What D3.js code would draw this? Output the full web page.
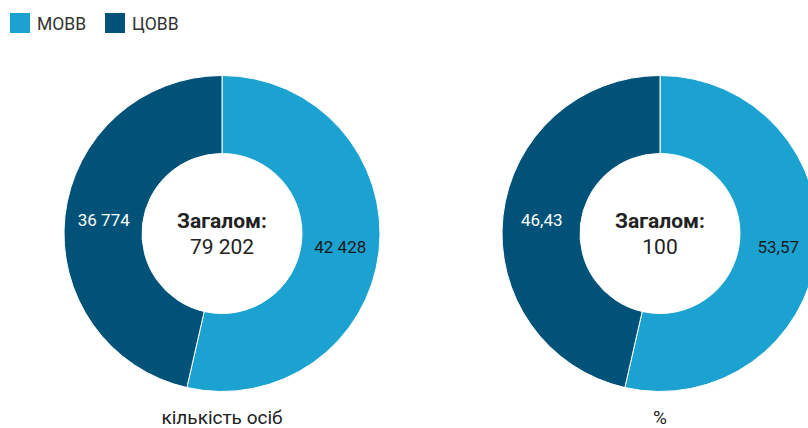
<!DOCTYPE html>
<html><head><meta charset="utf-8">
<script src="https://cdn.jsdelivr.net/npm/d3@7"></script>
<style>
html,body{margin:0;padding:0;background:#fff;}
svg{display:block;font-family:Roboto,"Open Sans",sans-serif;}
</style></head>
<body>
<svg id="chart" width="808" height="428"></svg>
<script>
const categories = ["МОВВ", "ЦОВВ"];
const colors = ["#1ba2d0", "#015279"];
const countValues = [42428, 36774];
const countLabels = ["42 428", "36 774"];
const pctValues = [53.57, 46.43];
const pctLabels = ["53,57", "46,43"];
const charts = [
  {values: countValues, labels: countLabels, total: "79 202", title: "кількість осіб", cx: 222},
  {values: pctValues, labels: pctLabels, total: "100", title: "%", cx: 660}
];

const svg = d3.select("#chart");
const cy = 233.5, rOuter = 158, rInner = 80;
const color = d3.scaleOrdinal().domain(categories).range(colors);

// legend
const leg = svg.append("g");
const legX = [10, 105];
categories.forEach((c, i) => {
  leg.append("rect").attr("x", legX[i]).attr("y", 13).attr("width", 20).attr("height", 20).attr("fill", color(c));
  leg.append("text").attr("x", legX[i] + 27).attr("y", 29.5).attr("font-size", 17.5).attr("fill", "#333").text(c);
});

const pie = d3.pie().sort(null).value(d => d.v);
const arc = d3.arc().innerRadius(rInner).outerRadius(rOuter);

charts.forEach(ch => {
  const data = categories.map((c, i) => ({c, v: ch.values[i], label: ch.labels[i]}));
  const g = svg.append("g").attr("transform", `translate(${ch.cx},${cy})`);
  const arcs = pie(data);
  g.selectAll("path").data(arcs).join("path")
    .attr("d", arc).attr("fill", d => color(d.data.c))
    .attr("stroke", "#fff").attr("stroke-width", 1);
  g.selectAll("text.lbl").data(arcs).join("text").attr("class", "lbl")
    .attr("transform", d => `translate(${arc.centroid(d)})`)
    .attr("text-anchor", "middle").attr("dy", "0.35em")
    .attr("font-size", 17)
    .attr("fill", (d, i) => i === 0 ? "#1a1a1a" : "#fff")
    .text(d => d.data.label);
  g.append("text").attr("text-anchor", "middle").attr("y", -13).attr("dy", "0.35em")
    .attr("font-size", 21).attr("font-weight", "bold").attr("fill", "#222").text("Загалом:");
  g.append("text").attr("text-anchor", "middle").attr("y", 13).attr("dy", "0.35em")
    .attr("font-size", 21).attr("fill", "#222").text(ch.total);
  svg.append("text").attr("x", ch.cx).attr("y", 424).attr("text-anchor", "middle")
    .attr("font-size", 19).attr("fill", "#222").text(ch.title);
});
</script>
</body></html>
